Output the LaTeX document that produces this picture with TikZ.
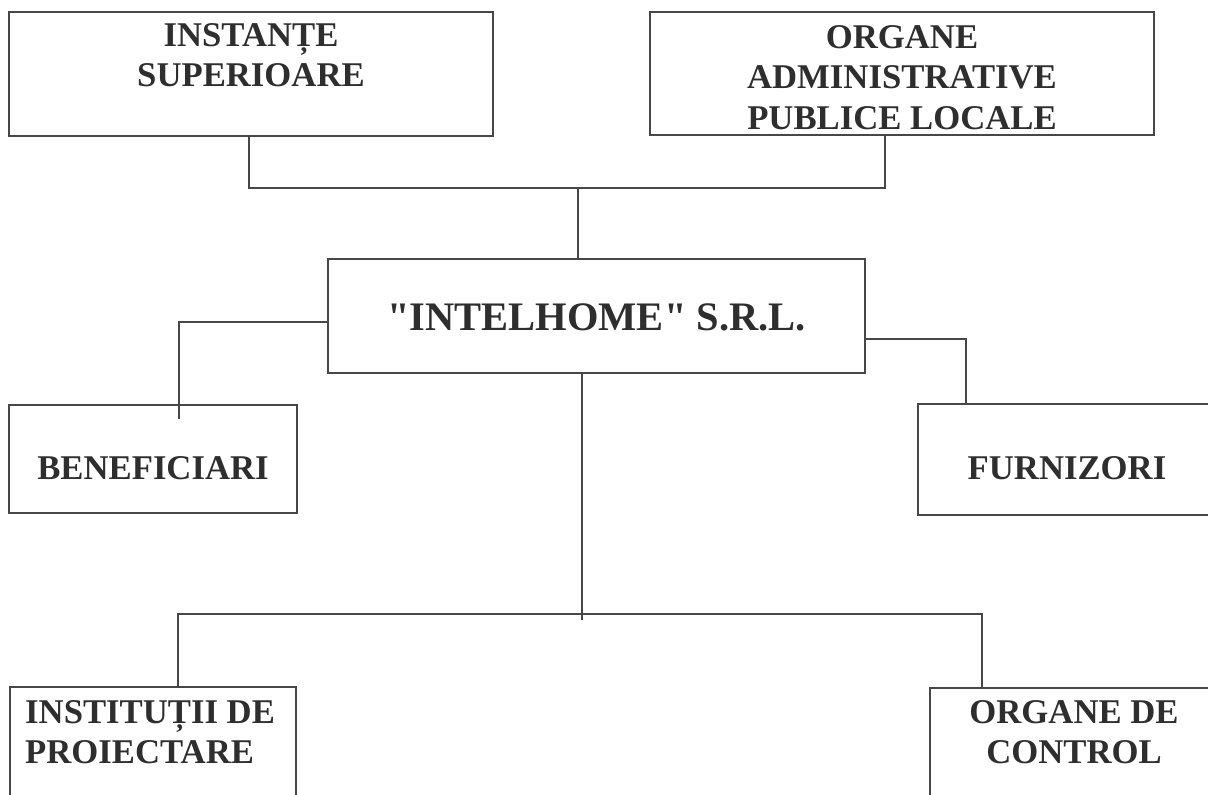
\documentclass[tikz,border=0pt]{standalone}
\usepackage{fontspec}
\setmainfont{Liberation Serif}[Ligatures=TeXOff]
\begin{document}
\begin{tikzpicture}[x=1pt,y=-1pt,
  box/.style={draw=black!72, line width=1.3pt, rectangle, inner sep=0pt},
  lbl/.style={font=\bfseries\fontsize{34.7}{40.5}\selectfont, text=black!82, inner sep=0pt},
  conn/.style={draw=black!72, line width=1.3pt}]
\useasboundingbox (0,0) rectangle (1208,795);
\clip (0,0) rectangle (1208,795);
% boxes
\node[box, minimum width=484pt, minimum height=124pt] (b1) at (251,74) {};
\node[box, minimum width=504pt, minimum height=123pt] (b2) at (902,73.5) {};
\node[box, minimum width=537pt, minimum height=114pt] (c) at (596.5,316) {};
\node[box, minimum width=288pt, minimum height=108pt] (b) at (153,459) {};
\node[box, minimum width=298pt, minimum height=111pt] (f) at (1067,459.5) {};
\node[box, minimum width=286pt, minimum height=143pt] (i) at (153,758.5) {};
\node[box, minimum width=288pt, minimum height=142pt] (o) at (1074,759) {};
% labels
\node[lbl, align=center, anchor=north] (t1) at (251,23) {INSTANȚE\\SUPERIOARE};
\node[lbl, align=center, anchor=north] (t2) at (902,25) {ORGANE\\ADMINISTRATIVE\\PUBLICE LOCALE};
\node[lbl, font=\bfseries\fontsize{40.5}{48}\selectfont, anchor=base] (tc) at (596.5,330) {"INTELHOME" S.R.L.};
\node[lbl, anchor=base] (tb) at (153,479) {BENEFICIARI};
\node[lbl, anchor=base] (tf) at (1067,479) {FURNIZORI};
\node[lbl, align=left, anchor=north west] (ti) at (25,700) {INSTITUȚII DE\\PROIECTARE};
\node[lbl, align=center, anchor=north] (to) at (1074,700) {ORGANE DE\\CONTROL};
% junctions
\coordinate (j1) at (249,188);
\coordinate (j2) at (885,188);
\coordinate (jt) at (578,188);
\coordinate (jl) at (179,322);
\coordinate (jle) at (179,419);
\coordinate (jr) at (966,339);
\coordinate (jb) at (582,614);
\coordinate (jbe) at (582,620);
\coordinate (jbl) at (178,614);
\coordinate (jbr) at (982,614);
% connectors
\draw[conn] (j1 |- b1.south) -- (j1) -- (j2) -- (j2 |- b2.south);
\draw[conn] (jt) -- (jt |- c.north);
\draw[conn] (c.west |- jl) -- (jl) -- (jle);
\draw[conn] (c.east |- jr) -- (jr) -- (jr |- f.north);
\draw[conn] (jb |- c.south) -- (jbe);
\draw[conn] (jbl |- i.north) -- (jbl) -- (jbr) -- (jbr |- o.north);
\end{tikzpicture}
\end{document}
